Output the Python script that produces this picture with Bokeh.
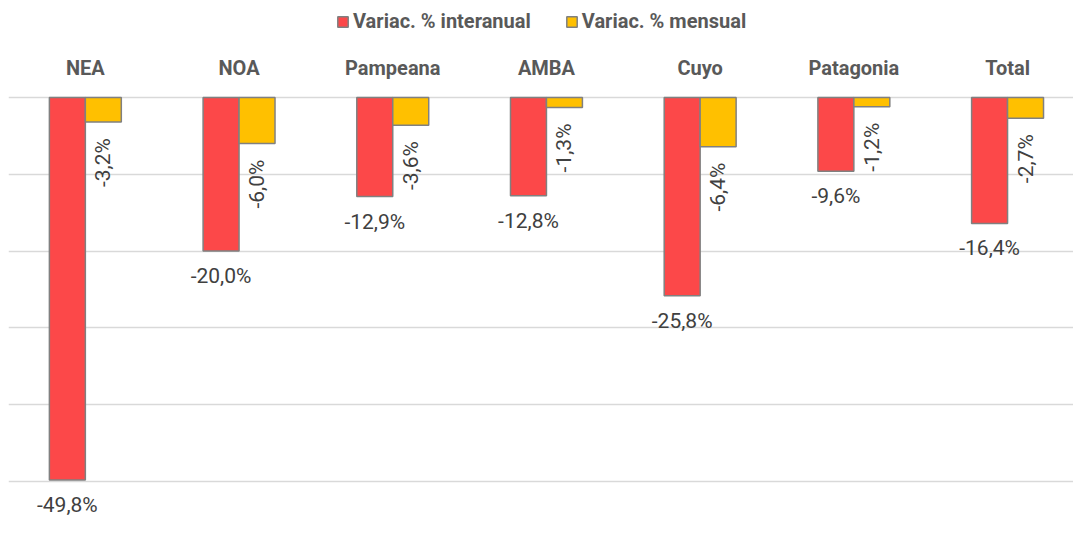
import numpy as np
from bokeh.plotting import figure
from bokeh.models import ColumnDataSource, Range1d, FixedTicker, Legend, LegendItem
from bokeh.embed import file_html
from bokeh.resources import INLINE
from bokeh.core.properties import value

categories = ["NEA", "NOA", "Pampeana", "AMBA", "Cuyo", "Patagonia", "Total"]
interanual = [-49.8, -20.0, -12.9, -12.8, -25.8, -9.6, -16.4]
mensual = [-3.2, -6.0, -3.6, -1.3, -6.4, -1.2, -2.7]
grid_ticks = [0, -10, -20, -30, -40, -50]

RED = "#FC4849"
YEL = "#FFC000"
EDGE = "#808080"
FONT = "Roboto"

idx = np.arange(len(categories)) + 0.5
w = 0.234

def fmt(v):
    return f"{v:.1f}%".replace(".", ",")

src_r = ColumnDataSource(dict(x=idx - w / 2, y=interanual, lab=[fmt(v) for v in interanual]))
src_y = ColumnDataSource(dict(x=idx + w / 2, y=mensual, lab=[fmt(v) for v in mensual]))
src_c = ColumnDataSource(dict(x=idx, y=np.zeros(len(categories)), lab=categories))

p = figure(width=1073, height=556, output_backend="svg", toolbar_location=None,
           x_range=Range1d(0.0, 6.929), y_range=Range1d(-59.77, 12.63),
           min_border=0, min_border_left=8)
p.outline_line_color = None
p.yaxis.visible = False
p.xaxis.visible = False
p.xgrid.visible = False
p.ygrid.ticker = FixedTicker(ticks=grid_ticks)
p.ygrid.grid_line_color = "#d9d9d9"
p.ygrid.grid_line_width = 1.5

rr = p.vbar(x="x", top=0, bottom="y", width=w, source=src_r, fill_color=RED,
            line_color=EDGE, line_width=1.5)
ry = p.vbar(x="x", top=0, bottom="y", width=w, source=src_y, fill_color=YEL,
            line_color=EDGE, line_width=1.5)

p.text(x="x", y="y", text="lab", source=src_r, text_align="center", text_baseline="top",
       y_offset=13, text_font=value(FONT), text_font_size="21px", text_color="#404040")
p.text(x="x", y="y", text="lab", source=src_y, text_align="right", text_baseline="middle",
       angle=np.pi / 2, y_offset=16, text_font=value(FONT), text_font_size="21px",
       text_color="#404040")

# category labels above the zero line
p.text(x="x", y="y", text="lab", source=src_c, text_align="center", text_baseline="alphabetic",
       y_offset=-21 - 8, text_font=value(FONT), text_font_style="bold", text_font_size="20px",
       text_color="#595959")

legend = Legend(items=[LegendItem(label="Variac. % interanual", renderers=[rr]),
                       LegendItem(label="Variac. % mensual", renderers=[ry])],
                orientation="horizontal", location=(328, 523))
legend.label_text_font = FONT
legend.label_text_font_style = "bold"
legend.label_text_font_size = "20px"
legend.label_text_color = "#595959"
legend.glyph_width = 13
legend.glyph_height = 13
legend.label_standoff = 4
legend.spacing = 34
legend.border_line_color = None
legend.background_fill_alpha = 0
legend.margin = 0
legend.padding = 0
p.add_layout(legend)

open("out.html", "w").write(file_html(p, INLINE))
